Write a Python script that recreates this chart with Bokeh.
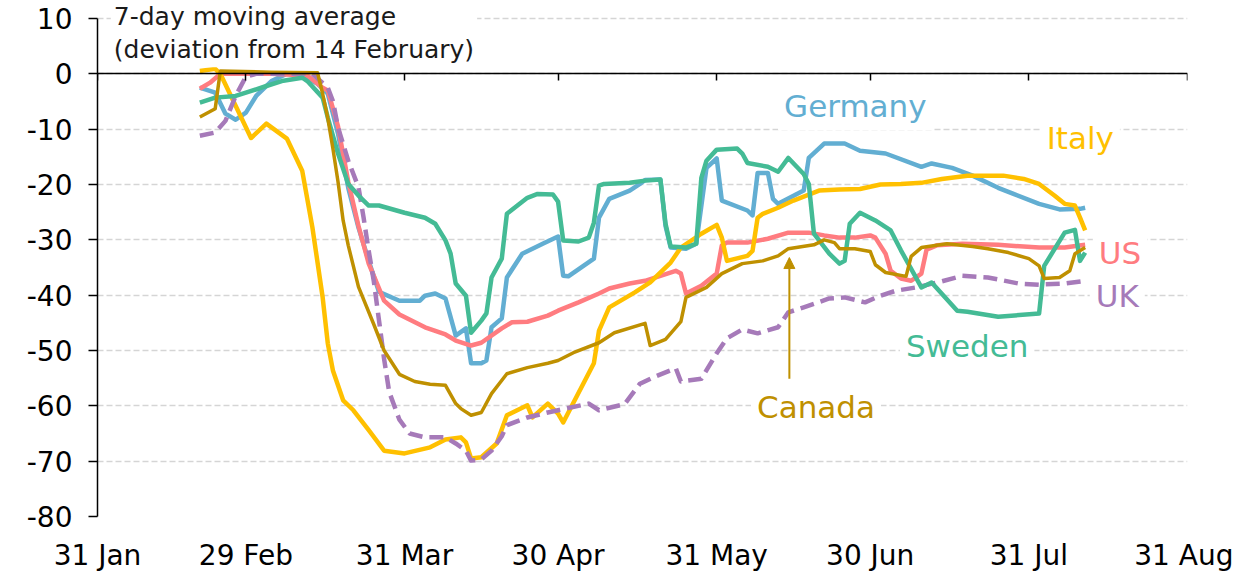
import pandas as pd
from bokeh.plotting import figure
from bokeh.models import FixedTicker, DatetimeAxis, Label, Arrow, NormalHead, Range1d
from bokeh.embed import file_html
from bokeh.resources import INLINE

YEAR = 2020

# ---- data (7-day moving average, deviation from 14 February, %) ----
germany = [("02-20", -2.5), ("02-23", -3.4), ("02-25", -7.2), ("02-27", -8.3), ("02-29", -7.0),
           ("03-02", -4.0), ("03-05", -1.3), ("03-08", 0.0), ("03-11", -0.4), ("03-14", -1.8),
           ("03-16", -3.6), ("03-18", -10.8), ("03-20", -20.6), ("03-22", -27.8), ("03-24", -33.8),
           ("03-26", -39.4), ("03-30", -41.0), ("04-03", -41.0), ("04-04", -40.1), ("04-06", -39.7),
           ("04-08", -40.6), ("04-10", -47.3), ("04-12", -46.0), ("04-13", -52.3), ("04-15", -52.3),
           ("04-16", -51.8), ("04-17", -45.8), ("04-19", -44.2), ("04-20", -36.8), ("04-23", -32.5),
           ("04-27", -30.7), ("04-30", -29.4), ("05-01", -36.5), ("05-02", -36.6), ("05-07", -33.4),
           ("05-08", -26.0), ("05-10", -22.6), ("05-14", -21.1), ("05-16", -19.9), ("05-17", -19.2),
           ("05-20", -19.1), ("05-21", -27.5), ("05-22", -31.4), ("05-25", -31.6), ("05-27", -30.7),
           ("05-29", -17.0), ("05-31", -15.3), ("06-01", -22.9), ("06-06", -24.7), ("06-07", -25.6),
           ("06-08", -17.9), ("06-10", -17.9), ("06-11", -22.6), ("06-12", -23.5), ("06-17", -21.1),
           ("06-18", -15.2), ("06-21", -12.6), ("06-25", -12.6), ("06-28", -13.9), ("07-03", -14.4),
           ("07-10", -16.8), ("07-12", -16.2), ("07-16", -17.0), ("07-20", -18.4), ("07-25", -20.6),
           ("07-28", -21.7), ("08-02", -23.5), ("08-06", -24.5), ("08-10", -24.4), ("08-11", -24.2)]

italy = [("02-20", 0.5), ("02-23", 0.9), ("02-24", 0.0), ("03-01", -11.6), ("03-04", -9.0),
         ("03-08", -11.7), ("03-11", -17.5), ("03-13", -27.8), ("03-15", -40.4), ("03-16", -48.7),
         ("03-17", -53.6), ("03-19", -59.0), ("03-21", -60.8), ("03-24", -64.4), ("03-27", -68.1),
         ("03-31", -68.6), ("04-05", -67.5), ("04-08", -66.1), ("04-11", -65.7), ("04-12", -66.6),
         ("04-13", -69.5), ("04-15", -69.3), ("04-18", -66.8), ("04-20", -61.7), ("04-24", -59.9),
         ("04-25", -62.1), ("04-28", -59.6), ("04-30", -61.4), ("05-01", -63.0), ("05-07", -52.3),
         ("05-08", -46.4), ("05-10", -42.2), ("05-15", -39.5), ("05-18", -37.7), ("05-22", -34.1),
         ("05-24", -31.4), ("05-28", -28.9), ("05-31", -27.3), ("06-01", -29.6), ("06-02", -33.8),
         ("06-06", -32.9), ("06-07", -32.0), ("06-08", -26.0), ("06-09", -25.3), ("06-12", -24.2),
         ("06-15", -22.9), ("06-20", -21.1), ("06-24", -20.9), ("06-28", -20.8), ("07-02", -20.0),
         ("07-06", -19.9), ("07-10", -19.7), ("07-14", -19.0), ("07-19", -18.4), ("07-26", -18.4),
         ("07-30", -19.0), ("08-02", -19.9), ("08-05", -22.0), ("08-07", -23.5), ("08-09", -23.8),
         ("08-10", -26.0), ("08-11", -28.3)]

us = [("02-20", -2.7), ("02-22", -1.6), ("02-24", 0.0), ("03-05", 0.0), ("03-12", -0.3),
      ("03-15", -2.5), ("03-16", -3.0), ("03-18", -9.5), ("03-20", -19.5), ("03-22", -27.5),
      ("03-24", -34.3), ("03-27", -41.0), ("03-30", -43.5), ("04-04", -45.8), ("04-08", -47.1),
      ("04-10", -48.2), ("04-13", -49.1), ("04-15", -48.6), ("04-19", -46.0), ("04-21", -44.9),
      ("04-24", -44.8), ("04-28", -43.7), ("04-30", -42.8), ("05-04", -41.3), ("05-08", -39.7),
      ("05-10", -38.8), ("05-14", -37.9), ("05-17", -37.4), ("05-23", -35.6), ("05-24", -36.1),
      ("05-25", -39.7), ("05-28", -38.3), ("05-31", -36.1), ("06-01", -31.0), ("06-02", -30.5),
      ("06-06", -30.5), ("06-10", -29.8), ("06-14", -28.7), ("06-18", -28.7), ("06-21", -29.2),
      ("06-24", -29.6), ("06-27", -29.6), ("06-30", -29.2), ("07-01", -29.6), ("07-03", -32.5),
      ("07-04", -35.6), ("07-06", -37.0), ("07-08", -37.4), ("07-10", -36.1), ("07-11", -31.8),
      ("07-13", -31.0), ("07-18", -30.7), ("07-25", -30.9), ("08-02", -31.4), ("08-07", -31.4),
      ("08-11", -30.9)]

uk = [("02-20", -11.2), ("02-23", -10.6), ("02-25", -8.5), ("02-27", -4.0), ("02-29", -0.5),
      ("03-02", 0.0), ("03-13", 0.0), ("03-16", -2.5), ("03-17", -4.9), ("03-18", -9.7),
      ("03-20", -15.7), ("03-22", -20.5), ("03-23", -26.0), ("03-24", -32.0), ("03-25", -37.5),
      ("03-26", -44.5), ("03-27", -51.5), ("03-28", -57.5), ("03-30", -62.5), ("04-01", -65.0),
      ("04-04", -65.7), ("04-08", -65.7), ("04-10", -66.8), ("04-12", -68.1), ("04-13", -69.9),
      ("04-15", -69.7), ("04-17", -68.1), ("04-19", -65.5), ("04-20", -63.5), ("04-24", -62.1),
      ("04-28", -61.2), ("04-30", -60.8), ("05-06", -59.6), ("05-08", -60.8), ("05-13", -59.7),
      ("05-16", -56.0), ("05-19", -54.7), ("05-23", -53.2), ("05-24", -55.6), ("05-28", -55.1),
      ("05-31", -50.5), ("06-02", -47.8), ("06-05", -46.2), ("06-08", -46.9), ("06-12", -45.8),
      ("06-14", -43.1), ("06-17", -42.2), ("06-22", -40.6), ("06-25", -40.4), ("06-29", -41.3),
      ("07-02", -40.1), ("07-05", -39.2), ("07-09", -38.6), ("07-14", -37.5), ("07-18", -36.5),
      ("07-23", -36.8), ("07-29", -37.9), ("08-02", -38.1), ("08-07", -37.9), ("08-11", -37.4)]

sweden = [("02-20", -5.2), ("02-23", -4.3), ("02-27", -4.0), ("02-29", -3.4), ("03-04", -2.2),
          ("03-07", -1.3), ("03-11", -0.7), ("03-12", -1.3), ("03-15", -4.3), ("03-16", -7.9),
          ("03-18", -14.4), ("03-20", -19.9), ("03-22", -22.0), ("03-24", -23.8), ("03-26", -23.8),
          ("03-31", -25.1), ("04-04", -26.0), ("04-06", -27.1), ("04-08", -30.1), ("04-09", -32.5),
          ("04-10", -37.9), ("04-12", -40.1), ("04-13", -46.8), ("04-15", -44.6), ("04-16", -43.3),
          ("04-17", -36.8), ("04-19", -33.4), ("04-20", -25.3), ("04-24", -22.4), ("04-26", -21.7),
          ("04-29", -21.8), ("04-30", -23.1), ("05-01", -30.1), ("05-04", -30.3), ("05-06", -29.6),
          ("05-07", -26.9), ("05-08", -20.2), ("05-09", -19.9), ("05-14", -19.7), ("05-17", -19.3),
          ("05-20", -19.1), ("05-21", -27.1), ("05-22", -31.2), ("05-25", -31.4), ("05-27", -30.7),
          ("05-28", -18.8), ("05-29", -15.7), ("05-31", -13.7), ("06-04", -13.5), ("06-05", -14.4),
          ("06-06", -16.1), ("06-10", -16.8), ("06-12", -17.7), ("06-14", -15.2), ("06-17", -18.1),
          ("06-18", -19.9), ("06-19", -28.9), ("06-22", -32.5), ("06-24", -34.3), ("06-25", -33.8),
          ("06-26", -27.1), ("06-28", -25.1), ("07-01", -26.5), ("07-04", -28.3), ("07-06", -31.9),
          ("07-10", -38.6), ("07-12", -37.7), ("07-17", -42.8), ("07-19", -43.0), ("07-25", -43.9),
          ("08-02", -43.3), ("08-03", -34.7), ("08-07", -28.7), ("08-09", -28.2), ("08-10", -33.8),
          ("08-11", -32.3)]

canada = [("02-20", -7.8), ("02-23", -6.3), ("02-24", 0.5), ("03-05", 0.3), ("03-14", 0.2),
          ("03-15", -3.6), ("03-16", -8.0), ("03-17", -13.5), ("03-18", -19.5), ("03-19", -26.5),
          ("03-20", -31.0), ("03-22", -38.5), ("03-25", -45.3), ("03-27", -50.0), ("03-30", -54.3),
          ("04-02", -55.6), ("04-05", -56.1), ("04-08", -56.3), ("04-10", -59.6), ("04-11", -60.5),
          ("04-13", -61.7), ("04-15", -61.2), ("04-17", -57.8), ("04-20", -54.2), ("04-24", -53.1),
          ("04-28", -52.3), ("04-30", -51.8), ("05-03", -50.4), ("05-08", -48.6), ("05-11", -46.8),
          ("05-17", -45.1), ("05-18", -49.1), ("05-21", -48.0), ("05-24", -44.8), ("05-25", -40.4),
          ("05-29", -38.6), ("06-01", -36.1), ("06-05", -34.3), ("06-09", -33.8), ("06-12", -32.9),
          ("06-14", -31.6), ("06-19", -30.9), ("06-21", -30.0), ("06-23", -30.5), ("06-24", -31.6),
          ("06-27", -31.6), ("06-30", -32.1), ("07-01", -34.5), ("07-03", -35.9), ("07-07", -36.6),
          ("07-08", -33.0), ("07-10", -31.4), ("07-15", -30.7), ("07-20", -31.2), ("07-23", -31.6),
          ("07-27", -32.3), ("07-31", -33.4), ("08-02", -34.7), ("08-03", -37.0), ("08-06", -36.8),
          ("08-08", -35.6), ("08-09", -32.5), ("08-11", -31.4)]

tick_dates = ["2020-01-31", "2020-02-29", "2020-03-31", "2020-04-30",
              "2020-05-31", "2020-06-30", "2020-07-31", "2020-08-31"]
tick_labels = ["31 Jan", "29 Feb", "31 Mar", "30 Apr", "31 May", "30 Jun", "31 Jul", "31 Aug"]
y_ticks = [10, 0, -10, -20, -30, -40, -50, -60, -70, -80]
y_tick_labels = ["10", "0", "-10", "-20", "-30", "-40", "-50", "-60", "-70", "-80"]

C_GER = "#62AED2"
C_ITA = "#FFC000"
C_US = "#FF7C80"
C_UK = "#A67AB9"
C_SWE = "#44BB95"
C_CAN = "#BF9000"
FONT = "DejaVu Sans"


def ms(d):
    return pd.Timestamp(d).value / 1e6


DAY = 86400000.0
BASE = ms("2020-01-31")


def day_x(d):
    return BASE + d * DAY


tick_ms = [ms(d) for d in tick_dates]

# frame: 498 px for the 90-unit axis span, plus 18 px headroom for the note above "10"
PX_PER_UNIT = 498 / 90.0
Y_TOP = 10 + 18 / PX_PER_UNIT

p = figure(frame_width=1090, frame_height=516, x_axis_type="datetime",
           x_range=Range1d(ms("2020-01-31"), ms("2020-08-31")),
           y_range=Range1d(-80, Y_TOP),
           output_backend="svg", toolbar_location=None,
           min_border_left=97, min_border_right=46, min_border_top=0, min_border_bottom=63)
p.outline_line_color = None
p.background_fill_color = "white"
p.xgrid.visible = False
p.ygrid.ticker = FixedTicker(ticks=y_ticks)
p.ygrid.grid_line_color = "#D5D5D5"
p.ygrid.grid_line_dash = "6 3"
p.ygrid.grid_line_width = 1.5

# bottom axis: labels only
xa = p.xaxis[0]
xa.ticker = FixedTicker(ticks=tick_ms)
xa.major_label_overrides = dict(zip(tick_ms, tick_labels))
xa.axis_line_color = None
xa.major_tick_line_color = None
xa.minor_tick_line_color = None
xa.major_tick_out = 0
xa.major_tick_in = 0
xa.major_label_standoff = 22
xa.major_label_text_font = FONT
xa.major_label_text_font_size = "28px"
xa.major_label_text_color = "black"

# axis line with ticks at zero
zero_axis = DatetimeAxis(fixed_location=0, ticker=FixedTicker(ticks=tick_ms),
                         major_tick_in=7, major_tick_out=0,
                         major_tick_line_color="black", major_tick_line_width=1.5,
                         minor_tick_line_color=None,
                         axis_line_color="black", axis_line_width=1.5,
                         major_label_text_font_size="0px", major_label_standoff=0,
                         major_label_overrides={t: "" for t in tick_ms})
p.add_layout(zero_axis, "above")

ya = p.yaxis[0]
ya.ticker = FixedTicker(ticks=y_ticks)
ya.bounds = (-80, 10)
ya.major_label_overrides = dict(zip(y_ticks, y_tick_labels))
ya.axis_line_color = "black"
ya.axis_line_width = 1.5
ya.major_tick_line_color = "black"
ya.major_tick_line_width = 1.5
ya.major_tick_out = 9
ya.major_tick_in = 0
ya.minor_tick_line_color = None
ya.major_label_standoff = 16
ya.major_label_text_font = FONT
ya.major_label_text_font_size = "28px"
ya.major_label_text_color = "black"

series = [
    (germany, C_GER, "solid", 4.5),
    (us, C_US, "solid", 4.5),
    (italy, C_ITA, "solid", 4.5),
    (uk, C_UK, "14 7", 4.5),
    (sweden, C_SWE, "solid", 4.5),
    (canada, C_CAN, "solid", 3.5),
]
for data, color, dash, w in series:
    xs = [pd.Timestamp(f"{YEAR}-{d}") for d, _ in data]
    ys = [v for _, v in data]
    p.line(xs, ys, line_color=color, line_width=w, line_dash=dash, line_join="round")

# note box
p.add_layout(Label(x=day_x(2.6), y=7.4, text="7-day moving average\n(deviation from 14 February)",
                   text_font=FONT, text_font_size="25px", text_color="#1a1a1a",
                   text_align="left", text_baseline="middle", text_line_height=1.16,
                   background_fill_color="white", padding=3))

labels = [
    ("Germany", 133.0, -5.8, C_GER),
    ("Italy", 184.3, -11.6, C_ITA),
    ("US", 194.5, -32.3, C_US),
    ("UK", 193.9, -40.1, C_UK),
    ("Sweden", 156.8, -49.1, C_SWE),
    ("Canada", 127.7, -60.2, C_CAN),
]
for txt, d, yv, col in labels:
    p.add_layout(Label(x=day_x(d), y=yv, text=txt, text_font=FONT, text_font_size="31px",
                       text_color=col, text_align="left", text_baseline="middle",
                       background_fill_color="white", padding=6))

p.add_layout(Arrow(end=NormalHead(size=11, fill_color=C_CAN, line_color=C_CAN),
                   x_start=day_x(135.2), y_start=-55.1, x_end=day_x(135.2), y_end=-33.2,
                   line_color=C_CAN, line_width=2))

open("out.html", "w").write(file_html(p, INLINE))
